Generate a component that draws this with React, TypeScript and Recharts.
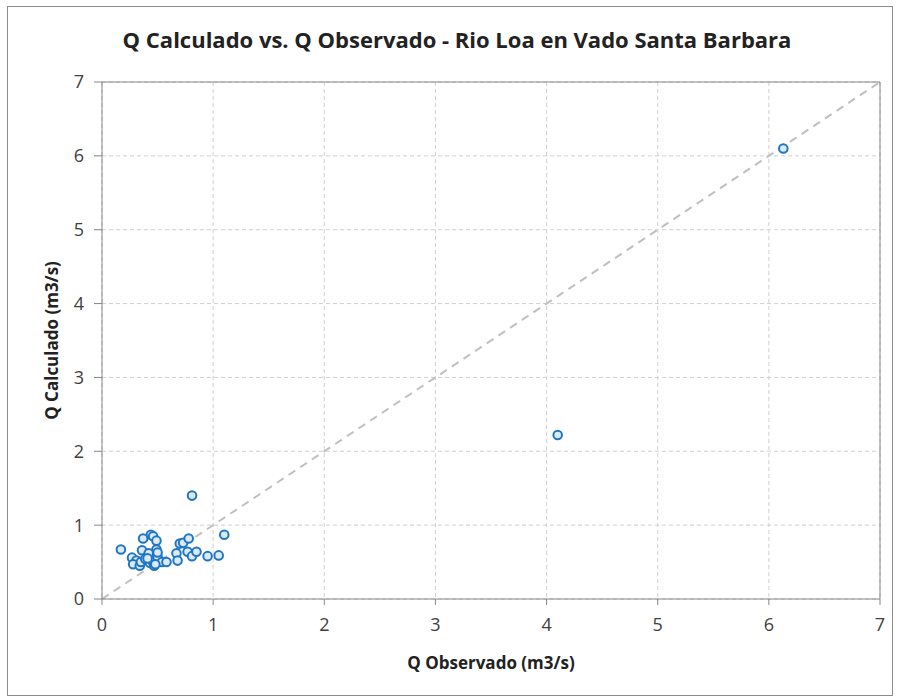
import { ScatterChart, Scatter, XAxis, YAxis, CartesianGrid, ReferenceLine } from 'recharts';

// Q observado (m3/s) por punto
const obsX = [
  0.17, 0.81, 1.1, 0.37, 0.44, 0.46, 0.49, 0.49, 0.36, 0.42, 0.27, 0.31, 0.28, 0.34, 0.35,
  0.39, 0.43, 0.46, 0.47, 0.5, 0.54, 0.58, 0.67, 0.68, 0.7, 0.73, 0.78, 0.77, 0.81, 0.85,
  0.95, 1.05, 0.5, 0.48, 0.41, 4.1, 6.13,
];
// Q calculado (m3/s) por punto
const calcY = [
  0.67, 1.4, 0.87, 0.82, 0.87, 0.85, 0.79, 0.67, 0.66, 0.62, 0.56, 0.52, 0.47, 0.45, 0.5,
  0.54, 0.49, 0.5, 0.45, 0.57, 0.5, 0.5, 0.62, 0.52, 0.75, 0.76, 0.82, 0.64, 0.58, 0.64,
  0.58, 0.59, 0.63, 0.47, 0.55, 2.22, 6.1,
];
const axisTicks = [0, 1, 2, 3, 4, 5, 6, 7];

const points = obsX.map((x, i) => ({ x, y: calcY[i] }));

const dot = (props: any) => (
  <circle cx={props.cx} cy={props.cy} r={4.3} fill="#dce9f6" stroke="#1f77c4" strokeWidth={2} />
);

const font = '"Open Sans", "Noto Sans", sans-serif';

export default function App() {
  return (
    <div style={{ position: 'absolute', left: 0, top: 0, width: 899, height: 699, background: '#fff' }}>
      <div
        style={{
          position: 'absolute',
          left: 7,
          top: 6,
          width: 886,
          height: 690,
          border: '1px solid #8c8c8c',
          boxSizing: 'border-box',
        }}
      />
      <div
        style={{
          position: 'absolute',
          left: 0,
          top: 26,
          width: 914,
          textAlign: 'center',
          fontFamily: font,
          fontWeight: 'bold',
          fontSize: 22,
          lineHeight: '26px',
          color: '#222',
        }}
      >
        Q Calculado vs. Q Observado - Rio Loa en Vado Santa Barbara
      </div>
      <ScatterChart
        width={899}
        height={699}
        margin={{ top: 82, right: 19, bottom: 18, left: 42 }}
        style={{ position: 'absolute', left: 0, top: 0 }}
      >
        <CartesianGrid stroke="#d0d0d0" strokeDasharray="4 3" />
        <XAxis
          type="number"
          dataKey="x"
          domain={[0, 7]}
          ticks={axisTicks}
          height={82}
          stroke="#868686"
          tickSize={6}
          tick={{ fill: '#404040', fontSize: 18, fontFamily: font }}
          tickMargin={13}
          label={{
            value: 'Q Observado (m3/s)',
            position: 'insideBottom',
            offset: 12,
            fill: '#222',
            fontSize: 17,
            fontWeight: 'bold',
            fontFamily: font,
          }}
        />
        <YAxis
          type="number"
          dataKey="y"
          domain={[0, 7]}
          ticks={axisTicks}
          width={60}
          stroke="#868686"
          tickSize={8}
          tick={{ fill: '#404040', fontSize: 18, fontFamily: font }}
          tickMargin={10}
          label={{
            value: 'Q Calculado (m3/s)',
            angle: -90,
            position: 'insideLeft',
            offset: 10,
            style: { textAnchor: 'middle' },
            fill: '#222',
            fontSize: 17,
            fontWeight: 'bold',
            fontFamily: font,
          }}
        />
        <ReferenceLine y={7} stroke="#868686" />
        <ReferenceLine x={7} stroke="#868686" />
        <ReferenceLine
          segment={[
            { x: 0, y: 0 },
            { x: 7, y: 7 },
          ]}
          stroke="#c0c0c0"
          strokeWidth={2}
          strokeDasharray="8 6"
        />
        <Scatter data={points} shape={dot} isAnimationActive={false} />
      </ScatterChart>
    </div>
  );
}
